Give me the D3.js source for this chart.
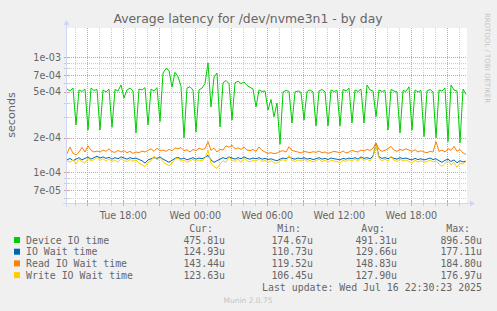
<!DOCTYPE html>
<html>
<head>
<meta charset="utf-8">
<script src="https://cdn.jsdelivr.net/npm/d3@7"></script>
<style>
  body { margin: 0; background: #F0F0F0; }
  text { font-family: "DejaVu Sans", sans-serif; fill: #666666; }
  .mono { font-family: "DejaVu Sans Mono", monospace; }
</style>
</head>
<body>
<div class="chart"></div>
<script>
// one sample every 15 minutes, values in microseconds
var startTime = new Date(2025, 6, 15, 13, 18, 30);
var stepMinutes = 15;
var spanMinutes = 2000;

var deviceIO = [530,510,540,258,520,505,530,233,540,515,
  525,233,520,500,530,246,525,510,575,443,
  520,540,510,220,530,520,545,258,530,510,
  545,276,730,800,770,550,740,680,560,199,
  540,555,520,225,520,540,590,897,370,674,
  730,248,600,630,590,285,600,620,590,610,
  570,550,530,370,520,505,510,348,430,304,
  400,175,500,515,505,268,500,510,495,285,
  505,520,500,253,510,525,500,253,520,505,
  515,253,525,510,540,268,520,505,530,268,
  575,520,510,304,520,505,515,233,525,510,
  500,220,515,505,555,233,520,500,515,204,
  510,525,500,199,520,510,540,185,575,520,
  510,180,530,476];

var ioWait = [128,132,126,130,134,128,132,136,130,134,
  138,133,136,132,135,130,134,131,136,133,
  130,134,131,133,129,126,120,128,131,134,
  132,136,130,126,122,127,132,135,130,133,
  128,131,134,130,133,131,135,140,128,122,
  126,130,134,131,136,133,130,134,131,136,
  132,130,133,131,134,130,132,129,131,128,
  126,130,133,131,136,132,130,133,131,134,
  130,132,129,131,134,130,132,129,133,131,
  130,128,132,130,133,131,134,130,136,132,
  134,131,138,177,136,132,134,131,135,132,
  130,134,131,133,130,128,132,129,131,128,
  130,133,129,131,126,122,127,130,124,128,
  121,126,123,125];

var readWait = [145,166,146,142,150,165,150,170,155,150,
  153,150,156,152,160,151,149,155,150,154,
  148,152,146,150,148,153,150,155,160,152,
  162,154,156,152,158,154,163,160,164,154,
  157,150,158,154,162,158,160,185,155,162,
  150,158,156,170,165,172,160,163,158,165,
  156,154,158,152,166,155,150,146,148,145,
  147,152,154,150,167,155,152,150,147,152,
  150,148,151,149,153,148,150,146,149,152,
  150,148,153,147,150,155,152,150,156,153,
  158,155,162,180,158,152,155,160,168,156,
  152,158,155,160,156,152,157,150,154,150,
  148,152,150,185,152,156,150,160,155,168,
  152,158,147,143];

var writeWait = [126,122,128,118,130,124,120,132,125,129,
  134,127,131,125,130,124,128,122,131,126,
  124,129,125,128,120,116,112,122,126,138,
  128,132,124,118,114,120,130,133,124,128,
  122,126,130,124,128,125,134,156,120,112,
  108,118,126,122,135,128,124,130,122,132,
  126,123,128,125,130,124,127,122,126,121,
  120,126,129,125,140,127,124,128,125,130,
  124,127,123,126,130,124,127,122,128,125,
  124,121,127,124,129,125,130,124,133,127,
  130,125,136,172,132,126,130,125,138,127,
  124,130,125,128,124,121,127,123,126,122,
  124,128,123,126,118,112,120,126,116,122,
  110,120,118,124];

var seriesNames = ["Device IO time", "IO Wait time", "Read IO Wait time", "Write IO Wait time"];
var seriesColors = ["#00CC00", "#0066B3", "#FF8000", "#FFCC00"];
var curValues = ["475.81u", "124.93u", "143.44u", "123.63u"];
var minValues = ["174.67u", "110.73u", "119.52u", "106.45u"];
var avgValues = ["491.31u", "129.66u", "148.83u", "127.90u"];
var maxValues = ["896.50u", "177.11u", "184.80u", "176.97u"];
var yLabelled = [1e-3, 7e-4, 5e-4, 2e-4, 1e-4, 7e-5];

var margin = {top: 28, left: 67},
    width = 400,
    height = 175;

var svg = d3.select(".chart")
  .append("svg")
    .attr("width", 497)
    .attr("height", 311);

var x = d3.scaleTime()
  .domain([startTime, d3.timeMinute.offset(startTime, spanMinutes)])
  .range([0, width]);

var y = d3.scaleLog()
  .domain([5.4e-5, 1.8e-3])
  .range([height, 0]);

var g = svg.append("g")
  .attr("transform", "translate(" + margin.left + "," + margin.top + ")");

// canvas
g.append("rect")
  .attr("width", width)
  .attr("height", height)
  .attr("fill", "#FFFFFF");

var minorCol = "#cfcfcf", majorCol = "#e59a9a";

// horizontal grid
var yTicks = y.ticks().filter(function(v) { return y(v) >= 0 && y(v) <= height; });
function isLabelled(v) {
  return yLabelled.some(function(l) { return Math.abs(l - v) / l < 1e-6; });
}
yTicks.forEach(function(v) {
  var yy = Math.round(y(v)) + 0.5;
  var col = isLabelled(v) ? majorCol : minorCol;
  g.append("line")
    .attr("x1", 0).attr("x2", width)
    .attr("y1", yy).attr("y2", yy)
    .attr("stroke", col)
    .attr("stroke-dasharray", "1,1");
  g.append("line")
    .attr("x1", -3).attr("x2", 2)
    .attr("y1", yy).attr("y2", yy)
    .attr("stroke", col);
});

// vertical grid
var hours = d3.timeHour.every(1).range(x.domain()[0], x.domain()[1]);
hours.forEach(function(t) {
  var xx = Math.round(x(t)) + 0.5;
  var col = t.getHours() % 3 == 0 ? majorCol : minorCol;
  g.append("line")
    .attr("x1", xx).attr("x2", xx)
    .attr("y1", 0).attr("y2", height)
    .attr("stroke", col)
    .attr("stroke-dasharray", "1,1");
  g.append("line")
    .attr("x1", xx).attr("x2", xx)
    .attr("y1", height - 2).attr("y2", height + 3)
    .attr("stroke", col);
});

// y labels
yLabelled.forEach(function(v) {
  g.append("text")
    .attr("x", -6)
    .attr("y", y(v) + 3.5)
    .attr("text-anchor", "end")
    .style("font-size", "9.6px")
    .text(d3.format(".0e")(v).replace(/e([+-])(\d)$/, "e$10$2"));
});

// x labels
var fmt = d3.timeFormat("%a %H:%M");
hours.filter(function(t) { return t.getHours() % 6 == 0; }).forEach(function(t) {
  g.append("text")
    .attr("x", x(t))
    .attr("y", height + 16)
    .attr("text-anchor", "middle")
    .style("font-size", "9.6px")
    .text(fmt(t));
});

// series
var allSeries = [deviceIO, ioWait, readWait, writeWait];
var line = d3.line()
  .x(function(d, i) { return x(d3.timeMinute.offset(startTime, i * stepMinutes)); })
  .y(function(d) { return y(d * 1e-6); });

g.append("clipPath").attr("id", "clip")
  .append("rect").attr("width", width).attr("height", height);

allSeries.forEach(function(s, k) {
  g.append("path")
    .datum(s)
    .attr("clip-path", "url(#clip)")
    .attr("fill", "none")
    .attr("stroke", seriesColors[k])
    .attr("stroke-width", 1)
    .attr("stroke-linejoin", "round")
    .attr("d", line);
});

// axes with arrows
var axisCol = "#CFD6F8";
g.append("line")
  .attr("x1", -4).attr("x2", width + 4)
  .attr("y1", height + 0.5).attr("y2", height + 0.5)
  .attr("stroke", axisCol);
g.append("line")
  .attr("x1", -0.5).attr("x2", -0.5)
  .attr("y1", height + 4).attr("y2", -4)
  .attr("stroke", axisCol);
g.append("path")
  .attr("d", "M" + (width + 3) + "," + (height - 2.5) + "L" + (width + 8) + "," + (height + 0.5) + "L" + (width + 3) + "," + (height + 3.5) + "Z")
  .attr("fill", axisCol);
g.append("path")
  .attr("d", "M-3.5,-3L-0.5,-8L2.5,-3Z")
  .attr("fill", axisCol);

// title
svg.append("text")
  .attr("x", 248)
  .attr("y", 23)
  .attr("text-anchor", "middle")
  .style("font-size", "12.4px")
  .text("Average latency for /dev/nvme3n1 - by day");

svg.append("text")
  .attr("transform", "translate(15,115) rotate(-90)")
  .attr("text-anchor", "middle")
  .style("font-size", "11.2px")
  .text("seconds");

svg.append("text")
  .attr("transform", "translate(485,58) rotate(90)")
  .attr("text-anchor", "middle")
  .style("font-size", "7px")
  .style("fill", "#c4c4c4")
  .text("RRDTOOL / TOBI OETIKER");

// legend
var cols = [225, 313, 397, 482];
var heads = ["Cur:", "Min:", "Avg:", "Max:"];
heads.forEach(function(h, j) {
  svg.append("text")
    .attr("class", "mono")
    .attr("x", cols[j] - 12)
    .attr("y", 231.5)
    .attr("text-anchor", "end")
    .style("font-size", "9.9px")
    .text(h);
});

var legendCols = [curValues, minValues, avgValues, maxValues];
seriesNames.forEach(function(n, k) {
  var yy = 243.5 + k * 11.7;
  svg.append("rect")
    .attr("x", 14).attr("y", yy - 6.5)
    .attr("width", 6).attr("height", 6)
    .attr("fill", seriesColors[k]);
  svg.append("text")
    .attr("class", "mono")
    .attr("x", 26)
    .attr("y", yy)
    .style("font-size", "9.9px")
    .text(n);
  legendCols.forEach(function(c, j) {
    svg.append("text")
      .attr("class", "mono")
      .attr("x", cols[j])
      .attr("y", yy)
      .attr("text-anchor", "end")
      .style("font-size", "9.9px")
      .text(c[k]);
  });
});

svg.append("text")
  .attr("class", "mono")
  .attr("x", 482)
  .attr("y", 290.5)
  .attr("text-anchor", "end")
  .style("font-size", "9.9px")
  .text("Last update: Wed Jul 16 22:30:23 2025");

svg.append("text")
  .attr("x", 248)
  .attr("y", 303)
  .attr("text-anchor", "middle")
  .style("font-size", "7.5px")
  .style("fill", "#c4c4c4")
  .text("Munin 2.0.75");
</script>
</body>
</html>
